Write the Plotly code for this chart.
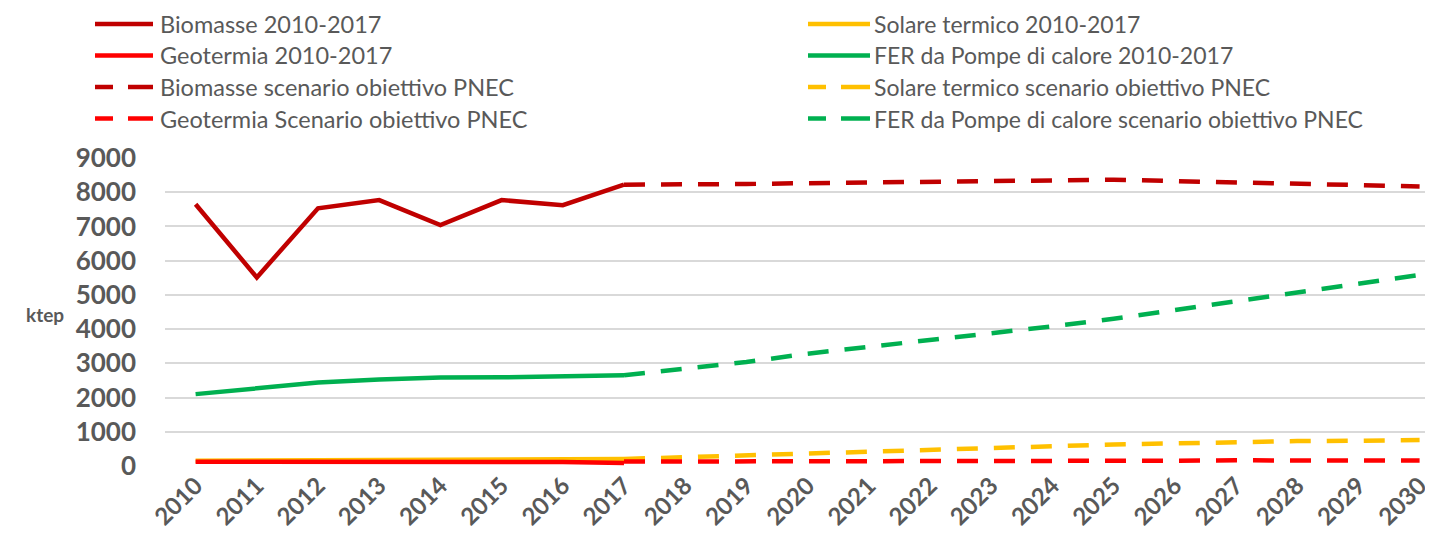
import plotly.graph_objects as go

years = [str(y) for y in range(2010, 2031)]
hist_years = years[:8]          # 2010-2017
scen_years = years[7:]          # 2017-2030

bio_hist = [7650, 5510, 7530, 7770, 7040, 7770, 7620, 8220]
sol_hist = [150, 160, 170, 175, 180, 190, 200, 205]
geo_hist = [125, 125, 125, 125, 125, 125, 115, 85]
fer_hist = [2100, 2260, 2440, 2530, 2585, 2590, 2620, 2650]

bio_scen = [8220, 8220, 8240, 8265, 8285, 8305, 8315, 8335, 8365, 8325, 8285, 8245, 8215, 8170]
sol_scen = [205, 260, 310, 375, 420, 485, 545, 592, 630, 660, 700, 728, 740, 757]
geo_scen = [130, 130, 130, 130, 130, 130, 130, 130, 130, 155, 165, 165, 165, 160]
fer_scen = [2650, 2834, 3039, 3282, 3477, 3682, 3896, 4080, 4302, 4555, 4808, 5080, 5346, 5584]

names = [
    "Biomasse 2010-2017", "Solare termico 2010-2017",
    "Geotermia 2010-2017", "FER da Pompe di calore 2010-2017",
    "Biomasse scenario obiettivo PNEC", "Solare termico scenario obiettivo PNEC",
    "Geotermia Scenario obiettivo PNEC", "FER da Pompe di calore scenario obiettivo PNEC",
]
colors = ["#C00000", "#FFC000", "#FF0000", "#00B050"]
y_ticks = list(range(0, 10000, 1000))

# page body has an 8px margin: figure is placed at (8, 8) in the window
OFF = 8
W, H = 1433 - OFF, 555 - OFF
L, R, T, B = 165 - OFF, 0, 158 - OFF, 89
pw, ph = W - L - R, H - T - B
step = 61.2
x_end = -0.5 + pw / step

TXT = "#595959"
FONT = "Lato"
DASH = "21px,16px"

fig = go.Figure()
series = [
    (hist_years, bio_hist, 0, 0, None), (hist_years, sol_hist, 1, 1, None),
    (hist_years, geo_hist, 2, 2, None), (hist_years, fer_hist, 3, 3, None),
    (scen_years, bio_scen, 4, 0, DASH), (scen_years, sol_scen, 5, 1, DASH),
    (scen_years, geo_scen, 6, 2, DASH), (scen_years, fer_scen, 7, 3, DASH),
]
for xs, ys, ni, ci, dash in series:
    fig.add_trace(go.Scatter(
        x=xs, y=ys, mode="lines", name=names[ni], showlegend=False,
        line=dict(color=colors[ci], width=4.5, dash=dash),
    ))

# manual legend (two columns, four rows); positions in window pixels
def px2paper(x, y):
    return (x - OFF - L) / pw, (H - B - (y - OFF)) / ph

rows_y = [24, 55.5, 87, 118.5]
cols = [(95, 153, 158), (808, 870, 872)]
color_idx = [0, 1, 2, 3, 0, 1, 2, 3]
for k in range(8):
    r, c = divmod(k, 2)
    x0, x1, xt = cols[c]
    yy = rows_y[r]
    col = colors[color_idx[k]]
    dashed = k >= 4
    segs = [(x0, x1)] if not dashed else [(x0, x0 + 18), (x0 + 33, x1)]
    for a, b in segs:
        pa, py_ = px2paper(a, yy)
        pb, _ = px2paper(b, yy)
        fig.add_shape(type="line", xref="paper", yref="paper",
                      x0=pa, x1=pb, y0=py_, y1=py_,
                      line=dict(color=col, width=4.5))
    tx, ty = px2paper(xt, yy)
    fig.add_annotation(xref="paper", yref="paper", x=tx, y=ty,
                       xanchor="left", yanchor="middle", showarrow=False,
                       text=names[k], font=dict(family=FONT, size=23.5 if c == 0 else 23, color=TXT))

kx, ky = px2paper(45, 314)
fig.add_annotation(xref="paper", yref="paper", x=kx, y=ky, xanchor="center",
                   yanchor="middle", showarrow=False, text="<b>ktep</b>",
                   font=dict(family=FONT, size=19, color=TXT))

fig.update_layout(
    width=W, height=H,
    margin=dict(l=L, r=R, t=T, b=B, pad=0),
    paper_bgcolor="white", plot_bgcolor="white",
    font=dict(family=FONT, color=TXT),
    showlegend=False,
    xaxis=dict(
        type="category", categoryorder="array", categoryarray=years,
        range=[-0.5, x_end], tickangle=-45, showgrid=False, zeroline=False,
        showline=False, ticks="",
        tickfont=dict(family=FONT, size=24, color=TXT, weight="bold"),
    ),
    yaxis=dict(
        range=[0, 9000], tickvals=y_ticks, ticktext=[str(v) for v in y_ticks],
        showgrid=True, gridcolor="#D9D9D9", gridwidth=1.5, zeroline=False,
        showline=False, ticks="", ticklabelstandoff=28,
        tickfont=dict(family=FONT, size=26, color=TXT, weight="bold"),
    ),
)

fig.write_html("out.html")
